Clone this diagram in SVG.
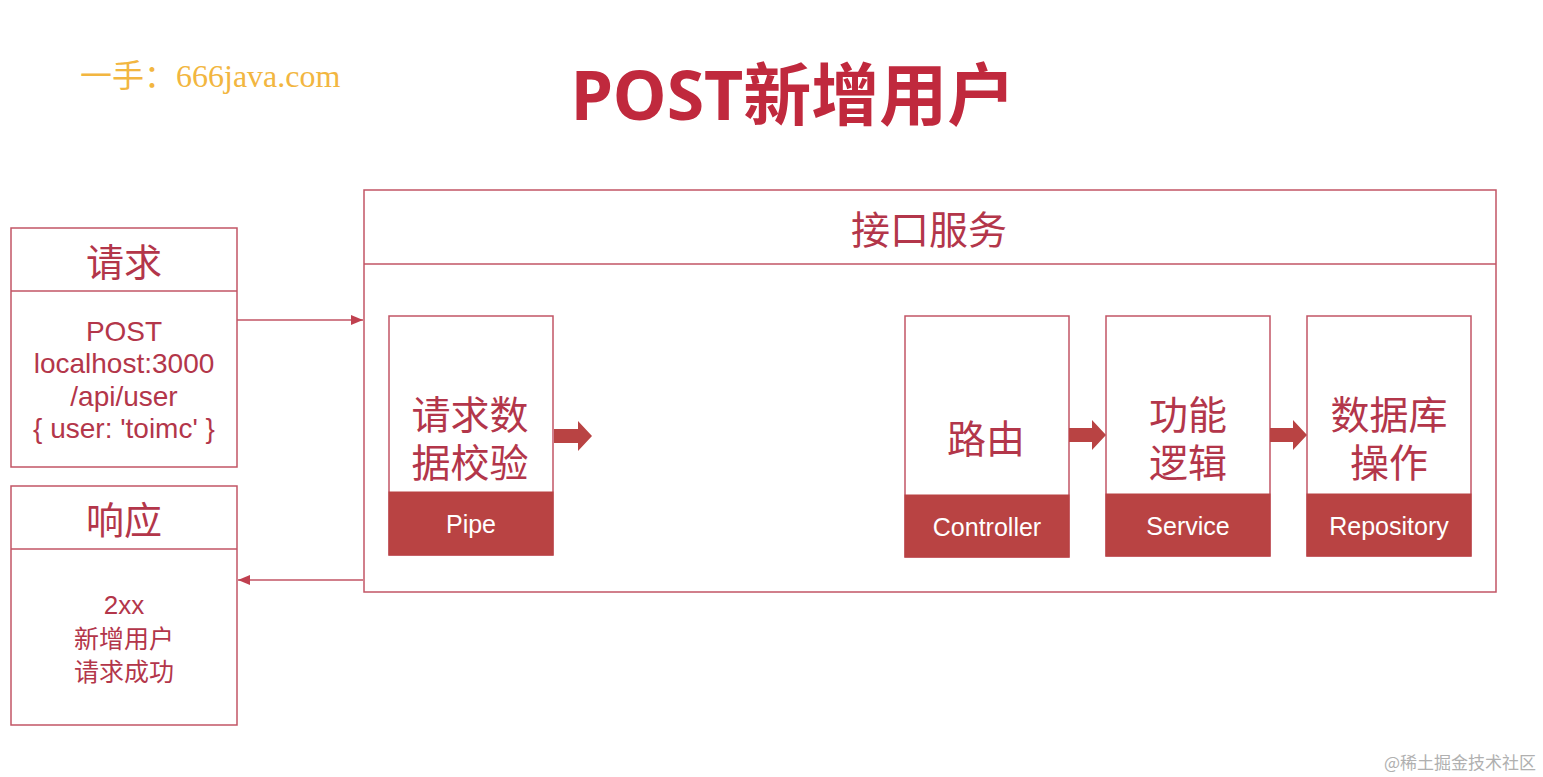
<svg xmlns="http://www.w3.org/2000/svg" width="1543" height="777" viewBox="0 0 1543 777">
<defs>
<style>
.box{fill:#ffffff;stroke:#c25565;stroke-width:1.5}
.line{stroke:#c25565;stroke-width:1.5;fill:none}
.band{fill:#b94343;stroke:#b94343}
.cn{font-family:"Noto Sans","Noto Sans CJK SC",sans-serif;fill:#b3364a;text-anchor:middle;dominant-baseline:central}
.en{font-family:"Liberation Sans","Noto Sans CJK SC",sans-serif;fill:#b3364a;text-anchor:middle;dominant-baseline:central}
.wt{font-family:"Liberation Sans","Noto Sans CJK SC",sans-serif;fill:#ffffff;text-anchor:middle;dominant-baseline:central;font-size:25px}
.blk{fill:#b94343}
</style>
<marker id="ah" markerWidth="12" markerHeight="10" refX="12" refY="5" orient="auto" markerUnits="userSpaceOnUse">
<path d="M0,0 L12,5 L0,10 Z" fill="#c0404f"/>
</marker>
</defs>
<rect width="1543" height="777" fill="#ffffff"/>

<text x="80" y="87" font-family="Liberation Serif,'Noto Sans CJK SC',serif" font-size="32" fill="#f2b640">一手：666java.com</text>
<text x="793" y="93" font-family="'Noto Sans','Noto Sans CJK SC',sans-serif" font-weight="bold" font-size="68" fill="#c0293d" text-anchor="middle" dominant-baseline="central">POST新增用户</text>

<g id="request">
<rect class="box" x="11" y="228" width="226" height="239"/>
<line class="line" x1="11" y1="291" x2="237" y2="291"/>
<text class="cn" x="124" y="261" font-size="38">请求</text>
<text class="en" x="124" y="331" font-size="28">POST</text>
<text class="en" x="124" y="363" font-size="28">localhost:3000</text>
<text class="en" x="124" y="396" font-size="28">/api/user</text>
<text class="en" x="124" y="428" font-size="28">{ user: 'toimc' }</text>
</g>

<g id="response">
<rect class="box" x="11" y="486" width="226" height="239"/>
<line class="line" x1="11" y1="549" x2="237" y2="549"/>
<text class="cn" x="124" y="519" font-size="38">响应</text>
<text class="en" x="124" y="605" font-size="26">2xx</text>
<text class="cn" x="124" y="638" font-size="25">新增用户</text>
<text class="cn" x="124" y="671" font-size="25">请求成功</text>
</g>

<g id="service-frame">
<rect class="box" x="364" y="190" width="1132" height="402"/>
<line class="line" x1="364" y1="264" x2="1496" y2="264"/>
<text class="cn" x="929" y="228" font-size="39">接口服务</text>
</g>

<g id="pipe">
<rect class="box" x="389" y="316" width="164" height="239"/>
<rect class="band" x="389" y="492" width="164" height="63"/>
<text class="cn" x="470" y="413" font-size="39">请求数</text>
<text class="cn" x="470" y="461" font-size="39">据校验</text>
<text class="wt" x="471" y="524">Pipe</text>
</g>

<g id="controller">
<rect class="box" x="905" y="316" width="164" height="241"/>
<rect class="band" x="905" y="495" width="164" height="62"/>
<text class="cn" x="986" y="437" font-size="39">路由</text>
<text class="wt" x="987" y="527">Controller</text>
</g>

<g id="service">
<rect class="box" x="1106" y="316" width="164" height="240"/>
<rect class="band" x="1106" y="494" width="164" height="62"/>
<text class="cn" x="1188" y="413" font-size="39">功能</text>
<text class="cn" x="1188" y="461" font-size="39">逻辑</text>
<text class="wt" x="1188" y="526">Service</text>
</g>

<g id="repository">
<rect class="box" x="1307" y="316" width="164" height="240"/>
<rect class="band" x="1307" y="494" width="164" height="62"/>
<text class="cn" x="1389" y="413" font-size="39">数据库</text>
<text class="cn" x="1389" y="461" font-size="39">操作</text>
<text class="wt" x="1389" y="526">Repository</text>
</g>

<g id="connectors">
<line class="line" x1="237" y1="320" x2="363" y2="320" stroke="#c0404f" marker-end="url(#ah)"/>
<line class="line" x1="363" y1="580" x2="238" y2="580" stroke="#c0404f" marker-end="url(#ah)"/>
<polygon class="blk" points="554,429 578,429 578,421 592,436 578,451 578,443 554,443"/>
<polygon class="blk" points="1069,428 1092,428 1092,420 1106,435 1092,450 1092,442 1069,442"/>
<polygon class="blk" points="1270,428 1293,428 1293,420 1307,435 1293,450 1293,442 1270,442"/>
</g>

<text x="1536" y="761" font-family="'Noto Sans CJK SC',sans-serif" font-size="17" fill="#b0b0b0" text-anchor="end" dominant-baseline="central">@稀土掘金技术社区</text>
</svg>
